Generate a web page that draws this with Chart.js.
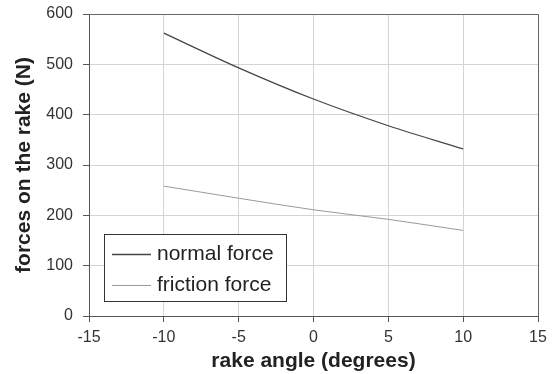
<!DOCTYPE html>
<html>
<head>
<meta charset="utf-8">
<script src="https://cdn.jsdelivr.net/npm/chart.js@4"></script>
<style>
  html, body { margin: 0; padding: 0; background: #fff; }
  #wrap { width: 556px; height: 374px; }
</style>
</head>
<body>
<div id="wrap"><canvas id="forceChart" width="556" height="374"></canvas></div>
<script>
// rake angle in degrees
const rakeAngles = [-10, -5, 0, 5, 10];
// forces in N
const normalForce = [562, 493, 431, 378, 332];
const frictionForce = [258, 234, 211, 192, 170];
const seriesNames = ["normal force", "friction force"];
const xTicks = [-15, -10, -5, 0, 5, 10, 15];
const yTicks = [0, 100, 200, 300, 400, 500, 600];

const FONT = "'Liberation Sans', Arial, Helvetica, sans-serif";

function toPoints(xs, ys) {
  return xs.map((x, i) => ({ x: x, y: ys[i] }));
}

// frame on top/right plus legend box inside the plot
const framePlugin = {
  id: "frame",
  beforeDatasetsDraw(chart) {
    const { ctx, chartArea: a } = chart;
    ctx.save();
    ctx.strokeStyle = "#666";
    ctx.lineWidth = 1;
    ctx.beginPath();
    ctx.moveTo(a.left, a.top + 0.5);
    ctx.lineTo(a.right + 0.5, a.top + 0.5);
    ctx.lineTo(a.right + 0.5, a.bottom);
    ctx.stroke();
    ctx.restore();
  },
  afterDatasetsDraw(chart) {
    const { ctx } = chart;
    const x = 104.5, y = 234.5, w = 182, h = 67;
    ctx.save();
    ctx.fillStyle = "#fff";
    ctx.fillRect(x, y, w, h);
    ctx.strokeStyle = "#333";
    ctx.lineWidth = 1;
    ctx.strokeRect(x, y, w, h);
    ctx.font = "21px " + FONT;
    ctx.textBaseline = "middle";
    ctx.fillStyle = "#222";
    chart.data.datasets.forEach((ds, i) => {
      const ry = 254 + i * 31;
      ctx.strokeStyle = ds.borderColor;
      ctx.lineWidth = i === 0 ? 1.5 : 1;
      ctx.beginPath();
      ctx.moveTo(112, ry + 0.5);
      ctx.lineTo(151, ry + 0.5);
      ctx.stroke();
      ctx.fillText(ds.label, 157, ry);
    });
    ctx.restore();
  }
};

const ctx = document.getElementById("forceChart").getContext("2d");
new Chart(ctx, {
  type: "line",
  data: {
    datasets: [{
      label: seriesNames[0],
      data: toPoints(rakeAngles, normalForce),
      borderColor: "#444",
      borderWidth: 1.2,
      pointRadius: 0,
      cubicInterpolationMode: "monotone",
      fill: false
    }, {
      label: seriesNames[1],
      data: toPoints(rakeAngles, frictionForce),
      borderColor: "#9a9a9a",
      borderWidth: 1,
      pointRadius: 0,
      cubicInterpolationMode: "monotone",
      fill: false
    }]
  },
  options: {
    responsive: false,
    animation: false,
    layout: { padding: { top: 14, right: 18, left: 0, bottom: 0 } },
    plugins: {
      legend: { display: false },
      tooltip: { enabled: false }
    },
    scales: {
      x: {
        type: "linear",
        min: -15,
        max: 15,
        afterBuildTicks: (scale) => { scale.ticks = xTicks.map(v => ({ value: v })); },
        afterFit: (scale) => { scale.height = 58; },
        grid: { color: "#d4d4d4", tickColor: "#555", tickLength: 6 },
        border: { color: "#555", width: 1 },
        ticks: { color: "#333", font: { family: FONT, size: 16 }, padding: 6, maxRotation: 0 },
        title: {
          display: true,
          text: "rake angle (degrees)",
          color: "#222",
          font: { family: FONT, size: 21, weight: "bold" },
          padding: { top: 0, bottom: 0 }
        }
      },
      y: {
        min: 0,
        max: 600,
        afterBuildTicks: (scale) => { scale.ticks = yTicks.map(v => ({ value: v })); },
        afterFit: (scale) => {
          scale.width = 89;
          scale.paddingTop = 0;
          scale.paddingBottom = 0;
        },
        grid: { color: "#d4d4d4", tickColor: "#555", tickLength: 6 },
        border: { color: "#555", width: 1 },
        ticks: { color: "#333", font: { family: FONT, size: 16 }, padding: 10 },
        title: {
          display: true,
          text: "forces on the rake (N)",
          color: "#222",
          font: { family: FONT, size: 21, weight: "bold" },
          padding: { top: 12, bottom: 0 }
        }
      }
    }
  },
  plugins: [framePlugin]
});
</script>
</body>
</html>
